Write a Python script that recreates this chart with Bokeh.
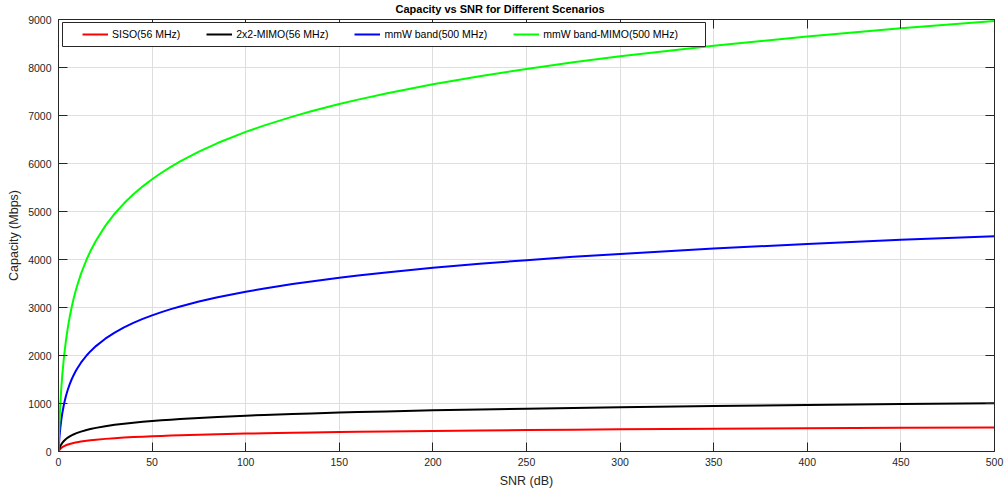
from bokeh.plotting import figure
from bokeh.models import (Range1d, LinearAxis, SingleIntervalTicker, Legend, LegendItem,
                          CustomJSTickFormatter, BoxAnnotation)
from bokeh.embed import file_html
from bokeh.resources import INLINE

snr_db = [0, 0.1, 0.25, 0.5, 0.75, 1, 1.5, 2, 3, 4, 5, 6, 7, 8, 9, 10, 12, 15, 17, 20, 25,
          30, 35, 40, 45, 50, 55, 60, 65, 75, 85, 100, 110, 125, 135, 150, 160, 175, 200,
          225, 250, 275, 300, 350, 400, 450, 500]
siso_56 = [0, 8, 18, 33, 45, 56, 74, 89, 112, 130, 145, 157, 168, 178, 186, 194, 207, 224,
           234, 246, 263, 277, 290, 300, 309, 318, 325, 332, 338, 350, 360, 373, 380, 391,
           397, 405, 411, 418, 428, 438, 446, 454, 461, 473, 484, 494, 502]
mimo_56 = [0, 15, 36, 66, 90, 112, 148, 178, 224, 260, 290, 314, 336, 355, 372, 387, 414,
           448, 467, 492, 526, 555, 579, 600, 619, 635, 650, 664, 677, 700, 720, 746, 761,
           781, 794, 811, 821, 835, 857, 876, 893, 908, 922, 947, 968, 987, 1005]
mmw_500 = [0, 69, 161, 292, 404, 500, 661, 792, 1000, 1161, 1292, 1404, 1500, 1585, 1661,
           1730, 1850, 2000, 2085, 2196, 2350, 2477, 2585, 2679, 2762, 2836, 2904, 2966,
           3022, 3124, 3213, 3329, 3397, 3489, 3544, 3619, 3666, 3730, 3826, 3910, 3986,
           4055, 4117, 4228, 4324, 4409, 4484]
mmw_mimo_500 = [0, 138, 322, 585, 807, 1000, 1322, 1585, 2000, 2322, 2585, 2807, 3000, 3170,
                3322, 3459, 3700, 4000, 4170, 4392, 4700, 4954, 5170, 5358, 5524, 5672, 5807,
                5931, 6044, 6248, 6426, 6658, 6794, 6977, 7087, 7238, 7331, 7459, 7651, 7820,
                7971, 8109, 8234, 8455, 8647, 8817, 8969]

series = [
    ("SISO(56 MHz)", siso_56, "#ff0000"),
    ("2x2-MIMO(56 MHz)", mimo_56, "#000000"),
    ("mmW band(500 MHz)", mmw_500, "#0000ff"),
    ("mmW band-MIMO(500 MHz)", mmw_mimo_500, "#00ff00"),
]

FONT = "Liberation Sans"
AX = "#262626"

p = figure(width=1008, height=491, output_backend="svg", toolbar_location=None,
           x_range=Range1d(0, 500), y_range=Range1d(0, 9000),
           title="Capacity vs SNR for Different Scenarios",
           min_border_left=58, min_border_right=14, min_border_bottom=40, min_border_top=0)

p.title.align = "left"
p.title.offset = 337
p.title.text_font = FONT
p.title.text_font_size = "11px"
p.title.text_font_style = "bold"
p.title.text_color = "#000000"
p.title.standoff = 1

p.xaxis.ticker = SingleIntervalTicker(interval=50)
p.yaxis.ticker = SingleIntervalTicker(interval=1000)
p.xgrid.ticker = SingleIntervalTicker(interval=50)
p.ygrid.ticker = SingleIntervalTicker(interval=1000)

for ax in (p.xaxis[0], p.yaxis[0]):
    ax.axis_line_color = AX
    ax.major_tick_line_color = AX
    ax.major_tick_in = 9
    ax.major_tick_out = 0
    ax.minor_tick_line_color = None
    ax.major_label_text_font = FONT
    ax.major_label_text_font_size = "10.5px"
    ax.major_label_text_color = AX
    ax.axis_label_text_font = FONT
    ax.axis_label_text_font_size = "12.5px"
    ax.axis_label_text_font_style = "normal"
    ax.axis_label_text_color = AX

p.xaxis.axis_label = "SNR (dB)"
p.yaxis.axis_label = "Capacity (Mbps)"
p.xaxis.major_label_standoff = 2
p.yaxis.major_label_standoff = 3
p.xaxis.axis_label_standoff = 5
p.yaxis.axis_label_standoff = 4

blank = CustomJSTickFormatter(code="return ''")
top = LinearAxis(ticker=SingleIntervalTicker(interval=50), formatter=blank,
                 major_label_standoff=0,
                 axis_line_color=AX, major_tick_line_color=AX, major_tick_in=9, major_tick_out=0,
                 minor_tick_line_color=None)
right = LinearAxis(ticker=SingleIntervalTicker(interval=1000), formatter=blank,
                   major_label_standoff=0,
                   axis_line_color=AX, major_tick_line_color=AX, major_tick_in=9, major_tick_out=0,
                   minor_tick_line_color=None)
p.add_layout(top, "above")
p.add_layout(right, "right")

p.grid.grid_line_color = "#dedede"
p.grid.grid_line_alpha = 1.0
p.outline_line_color = None

items = []
for name, vals, col in series:
    r = p.line(snr_db, vals, line_color=col, line_width=2, line_join="round")
    items.append(LegendItem(label=name, renderers=[r]))

# legend frame (MATLAB-style wide box), screen px from the frame's bottom-left
FRAME_H = 431
box = BoxAnnotation(left=4, right=647, top=FRAME_H - 2, bottom=FRAME_H - 26,
                    left_units="screen", right_units="screen",
                    top_units="screen", bottom_units="screen",
                    fill_color="#ffffff", fill_alpha=1.0,
                    line_color="#262626", line_width=1, line_alpha=1.0)
p.add_layout(box)

legend = Legend(items=items, orientation="horizontal", location=(24, FRAME_H - 21),
                label_text_font=FONT, label_text_font_size="10.5px", label_text_color="#000000",
                glyph_width=26, glyph_height=14, label_standoff=4, spacing=26,
                padding=5, margin=0, border_line_color=None,
                background_fill_alpha=0.0)
p.add_layout(legend, "center")

open("out.html", "w").write(file_html(p, INLINE))
